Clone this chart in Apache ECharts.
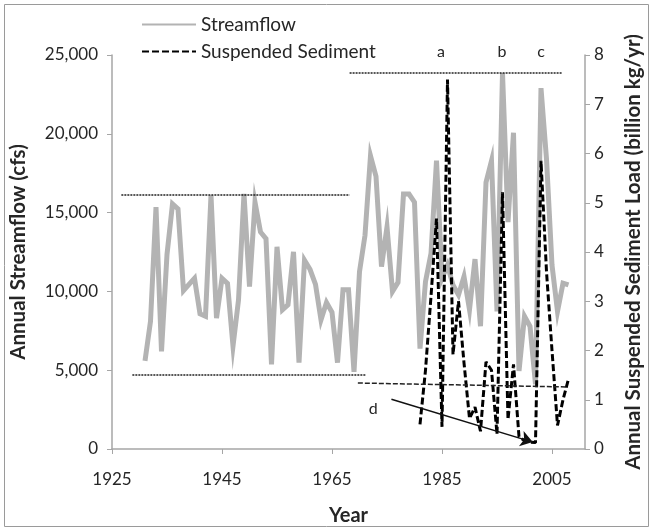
<!DOCTYPE html>
<html>
<head>
<meta charset="utf-8">
<script src="https://cdn.jsdelivr.net/npm/echarts@6/dist/echarts.min.js"></script>
<style>
html,body{margin:0;padding:0;background:#fff;}
#chart{width:653px;height:531px;}
</style>
</head>
<body>
<div id="chart"></div>
<script>
// ---- Data ----
const flowStartYear = 1931;
const streamflow = [
  5590, 8100, 15350, 6200, 12350, 15550, 15240, 10050, 10450, 10830,
  8580, 8420, 16100, 8310, 10830, 10500, 6530, 9450, 16180, 10300,
  15660, 13770, 13350, 5370, 12830, 8830, 9150, 12510, 5480, 11980,
  11400, 10450, 8200, 9300, 8680, 5480, 10100, 10100, 4900, 11250,
  13560, 18600, 17300, 11570, 14090, 10000, 10570, 16180, 16180, 15660,
  6370, 10620, 12400, 18300, 10830, 11670, 10400, 9780, 10940, 8840,
  12050, 7790, 16920, 18280, 8730, 23850, 14400, 20070, 4950, 8420,
  7790, 4110, 22900, 18390, 11670, 8730, 10520, 10410
];
const sedStartYear = 1981;
const sediment = [
  0.5, 1.6, 3.1, 4.68, 0.45, 7.5, 1.92, 3.0, 1.75, 0.62,
  0.85, 0.36, 1.77, 1.6, 0.3, 5.21, 0.6, 1.72, 0.25, 0.17,
  0.14, 0.13, 5.85, 3.6, 2.0, 0.48, 1.0, 1.42
];
const flowYears = streamflow.map((_, i) => flowStartYear + i);
const sedYears = sediment.map((_, i) => sedStartYear + i);

// reference lines (streamflow axis): [x1, y1, x2, y2]
const flowRefLines = [
  [1926.7, 16120, 1968.2, 16120],
  [1928.7, 4700, 1971.2, 4700],
  [1968.2, 23850, 2006.9, 23850]
];
// reference line (sediment axis)
const sedRefLine = [1969.7, 1.34, 2007.8, 1.26];
// arrow "d" (sediment axis)
const arrowD = [1975.8, 1.01, 2001.5, 0.14];
// annotation letters (sediment axis): [year, value, text]
const letters = [
  [1984.8, 8.06, 'a'],
  [1995.9, 8.06, 'b'],
  [2003.0, 8.06, 'c'],
  [1972.5, 0.82, 'd']
];

const FONT = 'Lato';
const TXT = '#262626';
const AXIS = '#a6a6a6';

const chart = echarts.init(document.getElementById('chart'), null, {renderer: 'canvas'});

const option = {
  animation: false,
  textStyle: {fontFamily: FONT, color: TXT},
  grid: {left: 112, right: 68, top: 55, bottom: 79, containLabel: false},
  legend: {
    orient: 'vertical',
    left: 136,
    top: 10,
    itemWidth: 54,
    itemHeight: 14,
    itemGap: 8,
    itemStyle: {opacity: 0},
    textStyle: {fontFamily: FONT, fontSize: 19, color: TXT},
    data: ['Streamflow', 'Suspended Sediment']
  },
  xAxis: {
    type: 'value',
    min: 1925, max: 2011, interval: 20,
    name: 'Year',
    nameLocation: 'middle',
    nameGap: 57,
    nameTextStyle: {fontFamily: FONT, fontSize: 20, fontWeight: 'bold', color: TXT},
    axisLine: {lineStyle: {color: AXIS, width: 1.5}},
    axisTick: {show: true, length: 5, lineStyle: {color: AXIS}},
    axisLabel: {fontSize: 17, color: TXT, margin: 22, showMaxLabel: false,
      formatter: v => ((v - 1925) % 20 === 0 ? String(v) : '')},
    splitLine: {show: false}
  },
  yAxis: [
    {
      type: 'value', min: 0, max: 25000, interval: 5000,
      name: 'Annual Streamflow (cfs)',
      nameLocation: 'middle', nameRotate: 90, nameGap: 83,
      nameTextStyle: {fontFamily: FONT, fontSize: 20.5, fontWeight: 'bold', color: TXT},
      axisLine: {show: true, lineStyle: {color: AXIS, width: 1.5}},
      axisTick: {show: true, length: 5, lineStyle: {color: AXIS}},
      axisLabel: {fontSize: 17, color: TXT, margin: 14,
        formatter: v => v.toLocaleString('en-US')},
      splitLine: {show: false}
    },
    {
      type: 'value', min: 0, max: 8, interval: 1,
      position: 'right',
      name: 'Annual Suspended Sediment Load (billion kg/yr)',
      nameLocation: 'middle', nameRotate: 90, nameGap: 38,
      nameTextStyle: {fontFamily: FONT, fontSize: 20.5, fontWeight: 'bold', color: TXT},
      axisLine: {show: true, lineStyle: {color: AXIS, width: 1.5}},
      axisTick: {show: true, length: 5, lineStyle: {color: AXIS}},
      axisLabel: {fontSize: 17, color: TXT, margin: 9},
      splitLine: {show: false}
    }
  ],
  series: [
    {
      name: 'Streamflow',
      type: 'line',
      yAxisIndex: 0,
      data: flowYears.map((y, i) => [y, streamflow[i]]),
      symbol: 'none',
      lineStyle: {color: '#b3b3b3', width: 5, join: 'miter'},
      itemStyle: {color: '#b3b3b3'},
      z: 2,
      markLine: {
        silent: true, symbol: ['none', 'none'], label: {show: false},
        lineStyle: {color: '#222', type: [2, 1], width: 1.5},
        data: flowRefLines.map(l => [{coord: [l[0], l[1]]}, {coord: [l[2], l[3]]}])
      }
    },
    {
      name: 'Suspended Sediment',
      type: 'line',
      yAxisIndex: 1,
      data: sedYears.map((y, i) => [y, sediment[i]]),
      symbol: 'none',
      lineStyle: {color: '#000', width: 3, type: [7, 3]},
      itemStyle: {color: '#000'},
      z: 3,
      markLine: {
        silent: true, label: {show: false},
        data: [
          [{coord: [sedRefLine[0], sedRefLine[1]], symbol: 'none', lineStyle: {color: '#222', type: [5, 2], width: 1.5}},
           {coord: [sedRefLine[2], sedRefLine[3]], symbol: 'none'}],
          [{coord: [arrowD[0], arrowD[1]], symbol: 'none', lineStyle: {color: '#111', type: 'solid', width: 1.5}},
           {coord: [arrowD[2], arrowD[3]], symbol: 'arrow', symbolSize: 12}]
        ]
      }
    }
  ]
};
chart.setOption(option);

// annotation letters and border
const g = letters.map(a => {
  const p = chart.convertToPixel({xAxisIndex: 0, yAxisIndex: 1}, [a[0], a[1]]);
  return {type: 'text', x: p[0], y: p[1], z: 10,
    style: {text: a[2], fontFamily: FONT, fontSize: 16, fill: TXT, align: 'center', verticalAlign: 'middle'}};
});
g.push({type: 'rect', shape: {x: 4.5, y: 4.5, width: 644, height: 522}, z: -1,
  style: {fill: 'none', stroke: '#9a9a9a', lineWidth: 1}});
chart.setOption({graphic: g});
</script>
</body>
</html>
